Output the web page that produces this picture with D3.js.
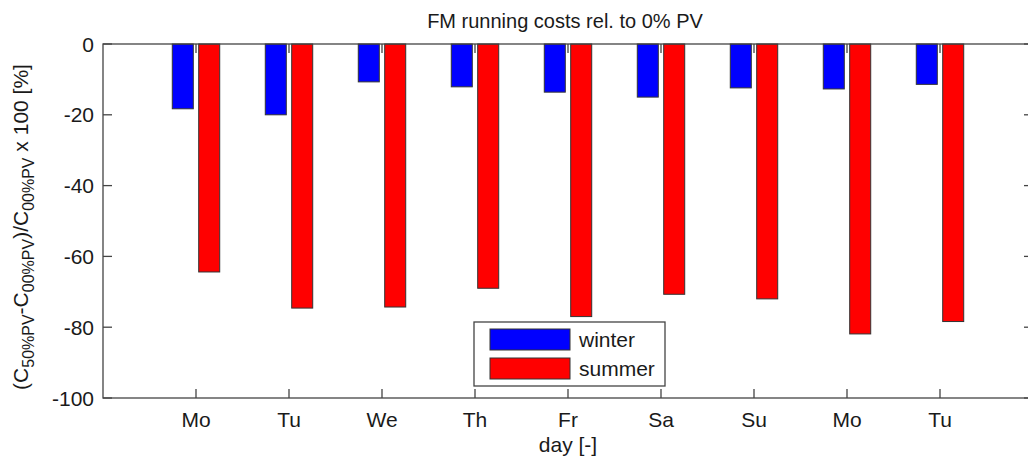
<!DOCTYPE html>
<html>
<head>
<meta charset="utf-8">
<script src="https://cdn.jsdelivr.net/npm/d3@7"></script>
<style>
  body { margin: 0; background: #fff; }
  text { font-family: "Liberation Sans", Arial, sans-serif; fill: #1a1a1a; }
</style>
</head>
<body>
<div id="chart-area"></div>
<script>
// data
var days = ["Mo", "Tu", "We", "Th", "Fr", "Sa", "Su", "Mo", "Tu"]
var winter = [-18.3, -20.0, -10.7, -12.1, -13.6, -15.0, -12.4, -12.7, -11.4]
var summer = [-64.4, -74.6, -74.3, -69.0, -77.0, -70.7, -72.0, -81.9, -78.4]
var seriesNames = ["winter", "summer"]
var seriesColors = ["#0000ff", "#ff0000"]
var yTicks = [0, -20, -40, -60, -80, -100]

var cw = 1028, ch = 462
var m = {l: 103, t: 44, r: -5, b: 64}
var w = cw - m.l - m.r
var h = ch - m.t - m.b

var svg = d3.select("#chart-area").append("svg")
    .attr("width", cw)
    .attr("height", ch)

var g = svg.append("g").attr("transform", "translate(" + m.l + ", " + m.t + ")")

// MATLAB style: categories at 1..n, axis 0..n+1
var x = d3.scaleLinear().domain([0, days.length + 1]).range([0, w])
var y = d3.scaleLinear().domain([0, -100]).range([0, h])

var barW = 0.226
var offs = [-0.142, 0.142]
var axisCol = "#444"
var tickLen = 9
var fs = "21px"

// bars
var series = [winter, summer]
series.forEach(function(vals, si) {
    g.selectAll(".bar-" + si)
        .data(vals)
        .enter()
        .append("rect")
        .attr("class", "bar-" + si)
        .attr("x", (d, i) => x(i + 1 + offs[si] - barW / 2))
        .attr("width", x(barW) - x(0))
        .attr("y", d => y(Math.max(0, d)))
        .attr("height", d => Math.abs(y(d) - y(0)))
        .attr("fill", seriesColors[si])
        .attr("stroke", "#333")
        .attr("stroke-width", 1)
})

// axes box
g.append("rect")
    .attr("x", 0).attr("y", 0)
    .attr("width", w).attr("height", h)
    .attr("fill", "none")
    .attr("stroke", axisCol)
    .attr("stroke-width", 1.3)

// y ticks left + right (inward)
var yt = g.append("g")
yt.selectAll(".ytl").data(yTicks).enter().append("line")
    .attr("x1", 0).attr("x2", tickLen)
    .attr("y1", d => y(d)).attr("y2", d => y(d))
    .attr("stroke", axisCol).attr("stroke-width", 1.3)
yt.selectAll(".ytr").data(yTicks).enter().append("line")
    .attr("x1", w).attr("x2", w - tickLen)
    .attr("y1", d => y(d)).attr("y2", d => y(d))
    .attr("stroke", axisCol).attr("stroke-width", 1.3)
yt.selectAll("text").data(yTicks).enter().append("text")
    .attr("x", -9)
    .attr("y", d => y(d))
    .attr("dy", "0.36em")
    .attr("text-anchor", "end")
    .attr("font-size", fs)
    .text(d => d === 0 ? "0" : "-" + Math.abs(d))

// x ticks bottom + top (inward)
var xt = g.append("g")
xt.selectAll(".xtb").data(days).enter().append("line")
    .attr("x1", (d, i) => x(i + 1)).attr("x2", (d, i) => x(i + 1))
    .attr("y1", h).attr("y2", h - tickLen)
    .attr("stroke", axisCol).attr("stroke-width", 1.3)
xt.selectAll(".xtt").data(days).enter().append("line")
    .attr("x1", (d, i) => x(i + 1)).attr("x2", (d, i) => x(i + 1))
    .attr("y1", 0).attr("y2", tickLen)
    .attr("stroke", axisCol).attr("stroke-width", 1.3)
xt.selectAll("text").data(days).enter().append("text")
    .attr("x", (d, i) => x(i + 1))
    .attr("y", h + 29)
    .attr("text-anchor", "middle")
    .attr("font-size", fs)
    .text(d => d)

// title
g.append("text")
    .attr("x", w / 2 - 3)
    .attr("y", -16)
    .attr("text-anchor", "middle")
    .attr("font-size", "20px")
    .text("FM running costs rel. to 0% PV")

// x label
g.append("text")
    .attr("x", w / 2)
    .attr("y", h + 54)
    .attr("text-anchor", "middle")
    .attr("font-size", fs)
    .text("day [-]")

// y label with subscripts
var yl = svg.append("text")
    .attr("transform", "translate(28, " + (m.t + h / 2 + 6) + ") rotate(-90)")
    .attr("text-anchor", "middle")
    .attr("font-size", fs)
yl.append("tspan").text("(C")
yl.append("tspan").attr("font-size", "16px").attr("dy", 6).text("50%PV")
yl.append("tspan").attr("dy", -6).text("-C")
yl.append("tspan").attr("font-size", "16px").attr("dy", 6).text("00%PV")
yl.append("tspan").attr("dy", -6).text(")/C")
yl.append("tspan").attr("font-size", "16px").attr("dy", 6).text("00%PV")
yl.append("tspan").attr("dy", -6).text(" x 100 [%]")

// legend
var legend = svg.append("g")
    .attr("class", "legend")
    .attr("transform", "translate(474, 322)")

legend.append("rect")
    .attr("width", 191).attr("height", 64)
    .attr("fill", "#fff")
    .attr("stroke", axisCol)
    .attr("stroke-width", 1.3)

var li = legend.selectAll(".legend-item")
    .data(seriesNames)
    .enter()
    .append("g")
    .attr("class", "legend-item")
    .attr("transform", (d, i) => "translate(16, " + (7 + i * 29) + ")")

li.append("rect")
    .attr("width", 80).attr("height", 21)
    .attr("fill", (d, i) => seriesColors[i])
    .attr("stroke", "#333")

li.append("text")
    .attr("x", 89)
    .attr("y", 10)
    .attr("dy", "0.36em")
    .attr("font-size", fs)
    .text(d => d)
</script>
</body>
</html>
